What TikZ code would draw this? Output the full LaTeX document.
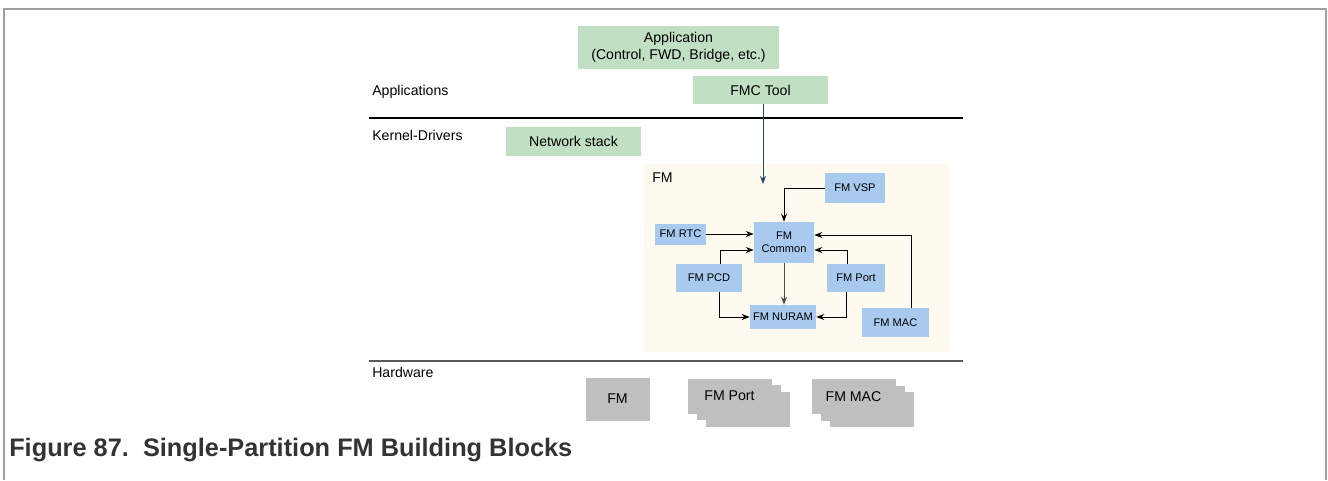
\documentclass[tikz,border=0pt]{standalone}
\usepackage{fontspec}
\setmainfont{Liberation Sans}
\usetikzlibrary{arrows.meta,calc,shadows}
\definecolor{appgreen}{RGB}{193,223,195}
\definecolor{fmblue}{RGB}{168,202,238}
\definecolor{hwgray}{RGB}{191,191,191}
\definecolor{fmcream}{RGB}{254,250,239}
\definecolor{framegray}{RGB}{160,160,160}
\begin{document}
\begin{tikzpicture}[x=0.75pt,y=-0.75pt,
  greenbox/.style={fill=appgreen,inner sep=0pt,align=center,font=\fontsize{10.6}{12.5}\selectfont},
  bluebox/.style={fill=fmblue,inner sep=0pt,align=center,font=\fontsize{8.3}{10}\selectfont},
  hwbox/.style={fill=hwgray,draw=hwgray,line width=0pt,inner sep=0pt,font=\fontsize{10.6}{12.5}\selectfont},
  layer/.style={anchor=west,inner sep=0pt,font=\fontsize{10.6}{12.5}\selectfont},
  arr/.style={-{Stealth[length=6pt,width=4.5pt]},line width=0.75pt}]
\useasboundingbox (0,0) rectangle (1328,480);
\draw[framegray,line width=1.5pt] (4,480) -- (4,9) -- (1326,9) -- (1326,480);

\node[layer] (applbl) at (372,92) {Applications};
\node[layer] (kernlbl) at (372,135) {Kernel-Drivers};
\node[layer] (hwlbl) at (372,372) {Hardware};
\draw[line width=1pt] (369,118) -- (963,118);
\draw[black!65,line width=1.5pt] (369,361) -- (963,361);

\node[greenbox,minimum width=201*0.75pt,minimum height=43*0.75pt] (app) at (678.5,47.5) {Application\\(Control, FWD, Bridge, etc.)};
\node[greenbox,minimum width=135*0.75pt,minimum height=28*0.75pt] (fmc) at (760.5,90) {FMC Tool};
\node[greenbox,minimum width=135*0.75pt,minimum height=29*0.75pt] (netstack) at (573.5,141.5) {Network stack};

\fill[fmcream] (644,164) rectangle (950,352);
\node[layer] (fmlbl) at (652,178) {FM};

\node[bluebox,minimum width=60*0.75pt,minimum height=30*0.75pt] (vsp) at (855,188) {FM VSP};
\node[bluebox,minimum width=51*0.75pt,minimum height=21*0.75pt] (rtc) at (680.5,234) {FM RTC};
\node[bluebox,minimum width=60*0.75pt,minimum height=41*0.75pt] (common) at (784,242.5) {FM\\Common};
\node[bluebox,minimum width=66*0.75pt,minimum height=28*0.75pt] (pcd) at (709,278) {FM PCD};
\node[bluebox,minimum width=58*0.75pt,minimum height=28*0.75pt] (port) at (856,278) {FM Port};
\node[bluebox,minimum width=66*0.75pt,minimum height=24*0.75pt] (nuram) at (783,317) {FM NURAM};
\node[bluebox,minimum width=67*0.75pt,minimum height=29*0.75pt] (mac) at (895.5,322.5) {FM MAC};

\coordinate (fmin) at (763,184);
\draw[arr,draw={rgb,255:red,31;green,73;blue,105}] (fmc.south -| fmin) -- (fmin);
\draw[arr] (vsp.west) -| (common.north);
\draw[arr] (rtc.east) -- (rtc.east -| common.west);
\draw[arr] ($(pcd.north)+(11,0)$) |- ($(common.west)+(0,7.5)$);
\draw[arr] ($(port.north)+(-9,0)$) |- ($(common.east)+(0,7.5)$);
\draw[arr] ($(mac.north)+(15.5,0)$) |- ($(common.east)+(0,-7.5)$);
\draw[arr,black!70] (common.south) -- (common.south |- nuram.north);
\draw[arr] ($(pcd.south)+(10,0)$) |- (nuram.west);
\draw[arr] ($(port.south)+(-10,0)$) |- (nuram.east);

\node[hwbox,minimum width=63*0.75pt,minimum height=42*0.75pt] (hwfm) at (617.5,399) {FM};
\node[hwbox,minimum width=83*0.75pt,minimum height=34*0.75pt,
  double copy shadow={shadow xshift=6.75pt,shadow yshift=-4.9pt}] (hwport) at (729.5,396) {FM Port};
\node[hwbox,minimum width=83*0.75pt,minimum height=34*0.75pt,
  double copy shadow={shadow xshift=6.75pt,shadow yshift=-4.9pt}] (hwmac) at (853.5,396.5) {FM MAC};

\node[anchor=base west,inner sep=0pt,text=black!80,font=\fontsize{19}{22}\selectfont\bfseries] (caption) at (9,456) {Figure 87.\ \ Single-Partition FM Building Blocks};
\end{tikzpicture}
\end{document}
